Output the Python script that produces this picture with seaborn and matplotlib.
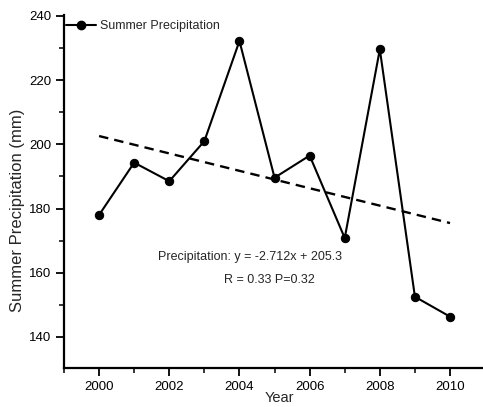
import numpy as np
import pandas as pd
import matplotlib
matplotlib.use("Agg")
import matplotlib.pyplot as plt
import seaborn as sns
from matplotlib.ticker import MultipleLocator
from matplotlib.lines import Line2D

# Summer precipitation series (mm)
years = [2000, 2001, 2002, 2003, 2004, 2005, 2006, 2007, 2008, 2009, 2010]
precip = [178.0, 194.3, 188.5, 201.0, 232.2, 189.6, 196.5, 170.8, 229.6, 152.5, 146.3]

# Linear trend: y = slope * x + intercept, with x = 1 for the first year
slope = -2.712
intercept = 205.3
r_value = 0.33
p_value = 0.32

sns.set_style("ticks")
plt.rcParams["font.family"] = ["Liberation Sans", "DejaVu Sans"]

W, H = 483, 407
fig = plt.figure(figsize=(W / 100, H / 100), dpi=100)
ax = fig.add_axes([64 / W, 1 - 368 / H, (W - 64) / W, (368 - 15) / H])

df = pd.DataFrame({"Year": years, "Precipitation": precip})
sns.lineplot(data=df, x="Year", y="Precipitation", ax=ax, color="black",
             linewidth=1.5, marker="o", markersize=6, markeredgecolor="black",
             legend=False)

x_index = np.arange(1, len(years) + 1)
trend = slope * x_index + intercept
trend_df = pd.DataFrame({"Year": years, "Trend": trend})
sns.lineplot(data=trend_df, x="Year", y="Trend", ax=ax, color="black",
             linewidth=1.7, linestyle=(0, (4, 2.6)), legend=False)

ax.set_xlim(1999, 2010.94)
ax.set_ylim(130.3, 240.3)
ax.xaxis.set_major_locator(MultipleLocator(2))
ax.xaxis.set_minor_locator(MultipleLocator(1))
ax.yaxis.set_major_locator(MultipleLocator(20))
ax.yaxis.set_minor_locator(MultipleLocator(10))

for side in ("top", "right"):
    ax.spines[side].set_visible(False)
for side in ("left", "bottom"):
    ax.spines[side].set_linewidth(1.6)
    ax.spines[side].set_color("black")

ax.tick_params(which="major", direction="out", length=6, width=1.3,
               labelsize=9.5, colors="black", pad=3)
ax.tick_params(which="minor", direction="out", length=3.5, width=1.3)

ax.set_xlabel("Year", fontsize=10.5)
ax.set_ylabel("Summer Precipitation (mm)", fontsize=12)
ax.xaxis.set_label_coords(0.515, -0.065)
ax.yaxis.set_label_coords(-0.093, 0.448)

handle = Line2D([], [], color="black", linewidth=1.5, marker="o", markersize=6)
ax.legend([handle], ["Summer Precipitation"], loc="upper left",
          bbox_to_anchor=(0.004, 0.986), frameon=False, fontsize=9,
          handlelength=2.4, handletextpad=0.35, borderaxespad=0, borderpad=0)

ax.text(2004.3, 164.8, f"Precipitation: y = {slope}x + {intercept}",
        ha="center", va="center", fontsize=9)
ax.text(2004.84, 157.8, f"R = {r_value} P={p_value}",
        ha="center", va="center", fontsize=9)

fig.savefig("out.png", dpi=100)
